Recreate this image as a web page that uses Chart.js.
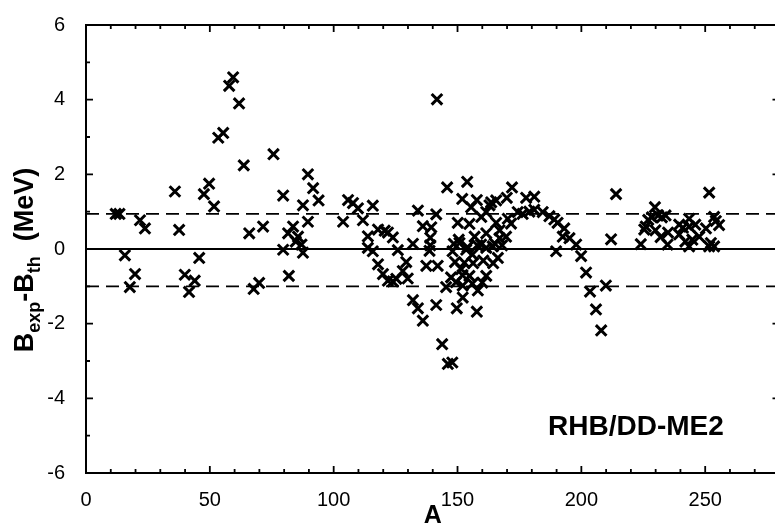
<!DOCTYPE html>
<html>
<head>
<meta charset="utf-8">
<script src="https://cdn.jsdelivr.net/npm/chart.js@4.4.0/dist/chart.umd.min.js"></script>
<style>
html, body { margin: 0; padding: 0; background: #fff; overflow: hidden; }
#wrap { position: relative; width: 790px; height: 526px; }
</style>
</head>
<body>
<div id="wrap"><canvas id="grafico" width="790" height="526"></canvas></div>
<script>
// mass number A and deviation B_exp - B_th (MeV)
const massNumbers = [
    12, 13.5, 15.7, 17.7, 19.8, 21.8, 23.8, 35.9, 37.6, 39.9,
    41.6, 43.9, 45.7, 47.6, 49.7, 51.7, 53.4, 55.4, 57.8, 59.4,
    61.8, 63.7, 65.9, 67.7, 69.9, 71.5, 75.7, 79.6, 79.6, 81.6,
    81.9, 83.6, 84.7, 85.6, 87, 87.6, 87.6, 89.6, 89.6, 91.7,
    93.9, 103.8, 105.8, 107.8, 109.8, 111.8, 113.8, 113.8, 115.8, 115.8,
    117.9, 117.9, 119.9, 120.6, 121.9, 121.9, 123.9, 123.9, 125.3, 125.9,
    127.9, 129.3, 129.9, 132, 132, 134, 134, 136, 136, 137.4,
    139, 139, 139.4, 138.7, 142, 141.4, 141.7, 141.4, 143.8, 145.8,
    146.1, 147.9, 145.4, 147.4, 148, 148.5, 149, 149.4, 149.7, 150.1,
    150.5, 151.9, 152, 152.1, 152.8, 153.9, 154.8, 154, 155.5, 156,
    156.3, 156.9, 157.8, 157.8, 158.2, 158, 159.6, 160.4, 160, 161.6,
    161.6, 161.6, 162.9, 163.6, 164.4, 165, 165.6, 165.6, 166.3, 167,
    168, 169.6, 169.9, 170.3, 171.6, 172, 174.3, 176.3, 177.7, 179,
    181, 181, 184.4, 187.1, 189.1, 189.8, 190.4, 192.5, 193.1, 195.2,
    197.9, 199.9, 201.9, 203.5, 205.9, 208, 209.9, 212, 214, 224,
    225.4, 226, 227, 228.5, 229.7, 229.9, 231, 232, 232.5, 234,
    234.8, 235, 239.5, 239.5, 241, 242, 243.5, 243.5, 243.5, 244.8,
    246, 247.6, 250.3, 251.6, 251.6, 252.3, 253.6, 253.6, 254.3, 255.6,
    150.8, 153.5, 159.5, 161.6, 164.2, 154.8, 151.5, 152.1, 156, 167
]
const deviations = [
    0.94, 0.94, -0.17, -1.02, -0.67, 0.77, 0.55, 1.54, 0.51, -0.69,
    -1.15, -0.85, -0.24, 1.47, 1.75, 1.14, 2.98, 3.11, 4.37, 4.6,
    3.9, 2.24, 0.42, -1.07, -0.91, 0.6, 2.54, 1.43, -0.02, 0.42,
    -0.72, 0.6, 0.2, 0.33, 0.12, 1.17, -0.1, 0.73, 2.0, 1.63,
    1.3, 0.73, 1.31, 1.23, 1.09, 0.77, 0.34, 0.03, 1.16, -0.06,
    0.52, -0.41, -0.67, 0.49, 0.44, -0.85, 0.31, -0.87, -0.8, -0.03,
    -0.59, -0.35, -0.79, 0.14, -1.37, 1.03, -1.59, 0.61, -1.92, -0.45,
    0.3, 0.1, 0.58, -0.05, -0.45, -1.5, 4.01, 0.93, -2.55, 1.65,
    -3.08, -3.04, -1.02, -0.76, -0.06, 0.14, -0.35, -0.89, -1.59, 0.7,
    0.25, 1.34, -0.7, -1.3, -0.37, 1.8, 0.67, 0.05, 1.12, -0.15,
    -0.38, 0.33, 1.31, -1.68, -1.11, 0.1, 0.86, -0.31, -0.9, 0.99,
    0.42, -0.72, 1.17, 1.25, -0.38, 0.15, 1.3, 0.7, -0.24, 0.5,
    0.1, 0.33, 1.37, 0.81, 0.68, 1.65, 0.99, 0.94, 1.37, 1.0,
    1.4, 1.05, 0.99, 0.88, 0.79, -0.06, 0.7, 0.33, 0.55, 0.29,
    0.12, -0.19, -0.63, -1.14, -1.62, -2.18, -0.98, 0.26, 1.47, 0.13,
    0.52, 0.6, 0.78, 0.85, 1.12, 0.5, 0.9, 0.32, 0.85, 0.9,
    0.12, 0.44, 0.65, 0.39, 0.57, 0.2, 0.81, 0.6, 0.07, 0.25,
    0.65, 0.33, 0.55, 1.51, 0.07, 0.16, 0.86, 0.07, 0.75, 0.64,
    0.16, -0.02, 0.12, 0.03, 0.07, -0.72, -0.54, -0.98, -0.93, 0.29
]
const xRange      = [0, 280]
const yRange      = [-6, 6]
const rmsBand     = [0.94, -1.0]
const modelLabel  = "RHB/DD-ME2"
const xTitle      = "A"

const FONT = "'Liberation Sans', Arial, Helvetica, sans-serif"

var pontos = massNumbers.map((a, i) => ({ x: a, y: deviations[i] }))

// moldura, ticks para dentro e linhas de referencia
const moldura = {
    id: "moldura",
    beforeDatasetsDraw(chart) {
        const ctx = chart.ctx
        const { left, right, top, bottom } = chart.chartArea
        const sx = chart.scales.x
        const sy = chart.scales.y
        ctx.save()
        ctx.strokeStyle = "#000"

        // linha zero
        ctx.lineWidth = 1.8
        ctx.beginPath()
        ctx.moveTo(left, sy.getPixelForValue(0))
        ctx.lineTo(right, sy.getPixelForValue(0))
        ctx.stroke()

        // rms tracejado
        ctx.setLineDash([13, 7])
        rmsBand.forEach((v) => {
            const py = sy.getPixelForValue(v)
            ctx.beginPath()
            ctx.moveTo(left, py)
            ctx.lineTo(right, py)
            ctx.stroke()
        })
        ctx.setLineDash([])

        // ticks
        ctx.lineWidth = 1.8
        for (let v = xRange[0]; v <= xRange[1]; v += 10) {
            const px = sx.getPixelForValue(v)
            const len = (v % 50 === 0) ? 7 : 4
            ctx.beginPath()
            ctx.moveTo(px, bottom); ctx.lineTo(px, bottom - len)
            ctx.moveTo(px, top);    ctx.lineTo(px, top + len)
            ctx.stroke()
        }
        for (let v = yRange[0]; v <= yRange[1]; v += 1) {
            const py = sy.getPixelForValue(v)
            const len = (v % 2 === 0) ? 7 : 4
            ctx.beginPath()
            ctx.moveTo(left, py);  ctx.lineTo(left + len, py)
            ctx.moveTo(right, py); ctx.lineTo(right - len, py)
            ctx.stroke()
        }

        ctx.lineWidth = 2
        ctx.strokeRect(left, top, right - left, bottom - top)
        ctx.restore()
    },
    afterDraw(chart) {
        const ctx = chart.ctx
        const { left, right } = chart.chartArea
        ctx.save()
        ctx.fillStyle = "#000"

        // titulo eixo x
        ctx.font = "bold 25px " + FONT
        ctx.textAlign = "center"
        ctx.textBaseline = "alphabetic"
        ctx.fillText(xTitle, (left + right) / 2, 523)

        // rotulo do modelo
        ctx.font = "bold 28px " + FONT
        ctx.textAlign = "left"
        ctx.fillText(modelLabel, 548, 435)

        // titulo eixo y com subscritos
        const partes = [
            { t: "B", sub: false }, { t: "exp", sub: true },
            { t: "-B", sub: false }, { t: "th", sub: true },
            { t: "  (MeV)", sub: false }
        ]
        const fMain = "bold 27px " + FONT
        const fSub  = "bold 18px " + FONT
        let total = 0
        partes.forEach((p) => {
            ctx.font = p.sub ? fSub : fMain
            p.w = ctx.measureText(p.t).width
            total += p.w
        })
        ctx.translate(33, 260)
        ctx.rotate(-Math.PI / 2)
        let x = -total / 2
        partes.forEach((p) => {
            ctx.font = p.sub ? fSub : fMain
            ctx.fillText(p.t, x, p.sub ? 7 : 0)
            x += p.w
        })
        ctx.restore()
    }
}

const config = {
    type: "scatter",
    data: { datasets: [{
        data: pontos,
        pointStyle: "crossRot",
        pointRadius: 7.5,
        pointHoverRadius: 7.5,
        borderColor: "#000",
        backgroundColor: "#000",
        borderWidth: 3
    }] },
    options: {
        responsive: false,
        animation: false,
        devicePixelRatio: 1,
        layout: { padding: { left: 0, right: 9.6, top: 14, bottom: 0 } },
        plugins: { legend: { display: false }, tooltip: { enabled: false } },
        scales: {
            x: {
                type: "linear", min: xRange[0], max: xRange[1],
                grid: { display: false }, border: { display: false },
                ticks: { stepSize: 50, includeBounds: false, color: "#000", padding: 7,
                         font: { family: FONT, size: 20 }, maxRotation: 0 },
                afterFit: (s) => { s.height = 53 }
            },
            y: {
                type: "linear", min: yRange[0], max: yRange[1],
                grid: { display: false }, border: { display: false },
                ticks: { stepSize: 2, includeBounds: false, color: "#000", padding: 13,
                         font: { family: FONT, size: 20 } },
                afterFit: (s) => { s.width = 86 }
            }
        }
    },
    plugins: [moldura]
}

new Chart(document.getElementById("grafico"), config)
</script>
</body>
</html>
